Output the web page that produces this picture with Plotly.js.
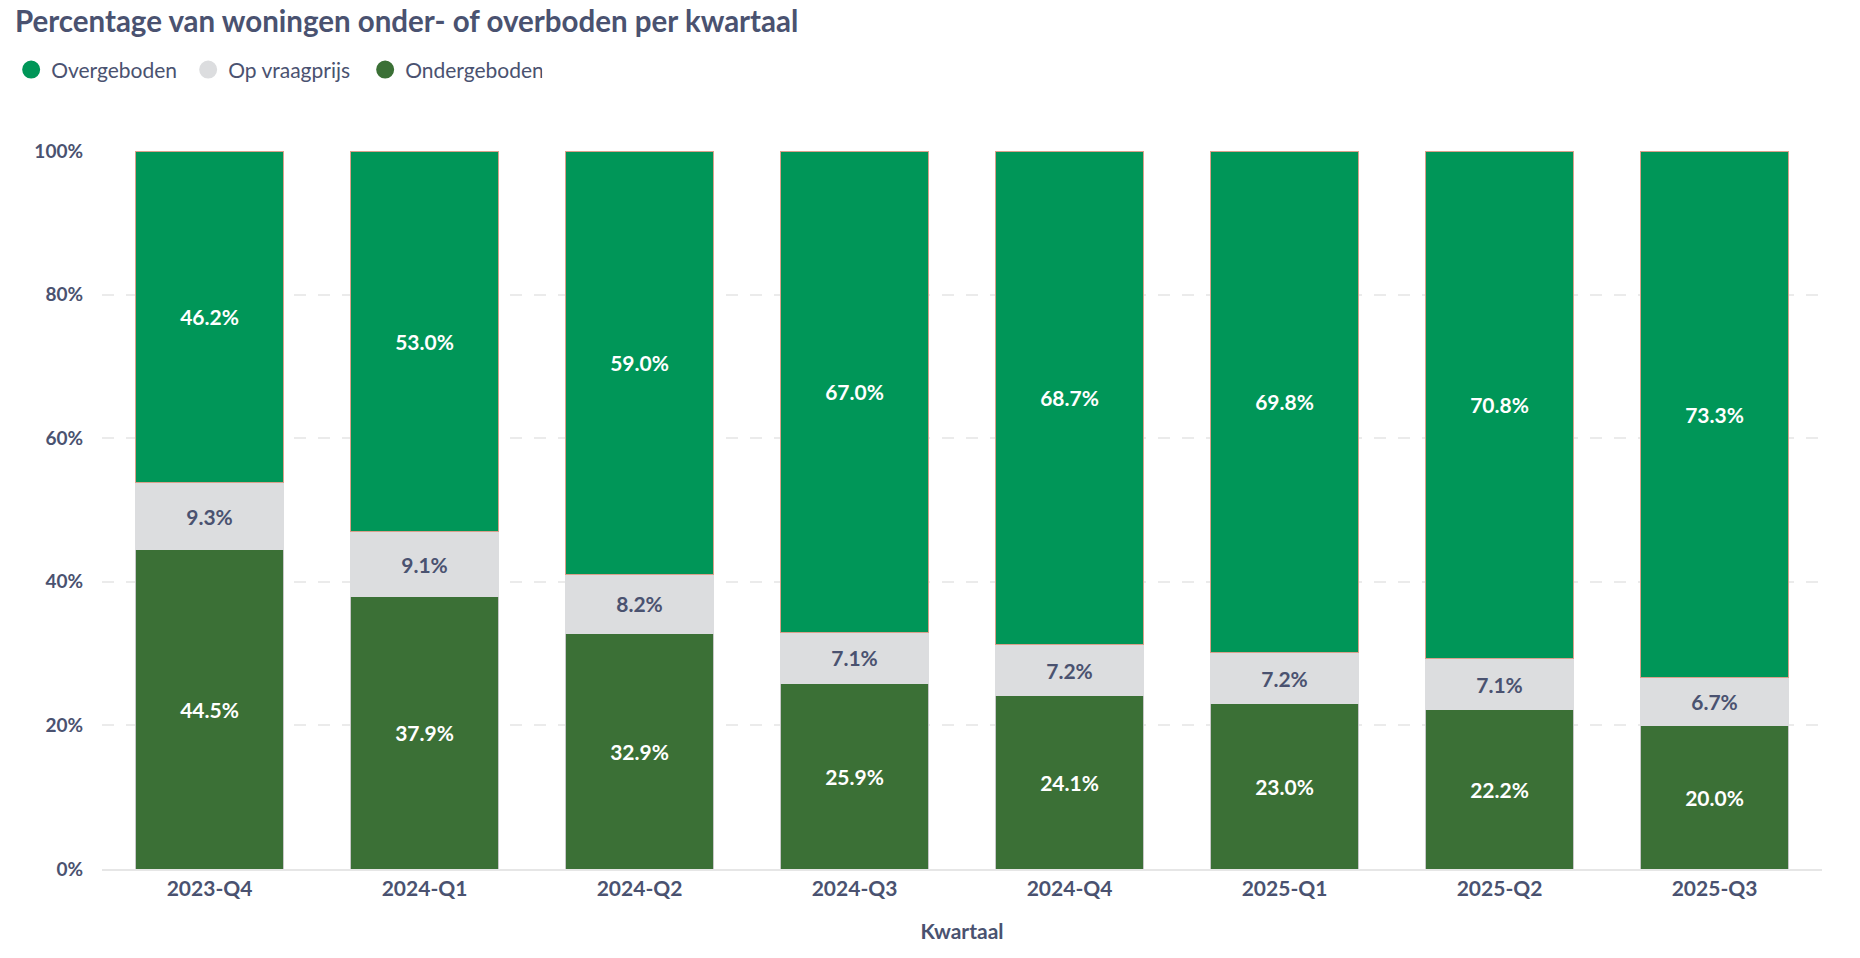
<!DOCTYPE html>
<html>
<head>
<meta charset="utf-8">
<script src="https://cdn.plot.ly/plotly-3.0.1.min.js"></script>
<style>
  html, body { margin: 0; padding: 0; background: #fff; }
  #chart { width: 1860px; height: 958px; }
</style>
</head>
<body>
<div id="chart"></div>
<script>
const quarters = ['2023-Q4', '2024-Q1', '2024-Q2', '2024-Q3', '2024-Q4', '2025-Q1', '2025-Q2', '2025-Q3'];
const ondergeboden = [44.5, 37.9, 32.9, 25.9, 24.1, 23.0, 22.2, 20.0];
const opVraagprijs = [9.3, 9.1, 8.2, 7.1, 7.2, 7.2, 7.1, 6.7];
const overgeboden = [46.2, 53.0, 59.0, 67.0, 68.7, 69.8, 70.8, 73.3];
const yTicks = [0, 20, 40, 60, 80, 100];

const textColor = '#4a5270';
const pct = v => v.toFixed(1) + '%';

function barTrace(name, values, color, lineColor, labelColor) {
    return {
        type: 'bar',
        name: name,
        legendgroup: name,
        showlegend: false,
        x: quarters,
        y: values,
        text: values.map(pct),
        textposition: 'inside',
        insidetextanchor: 'middle',
        textangle: 0,
        constraintext: 'none',
        textfont: { family: 'Lato', size: 21, weight: 'bold', color: labelColor },
        marker: { color: color, line: { color: lineColor, width: 1 } },
        hovertemplate: '%{x}<br>' + name + ': %{text}<extra></extra>'
    };
}

// legend entries drawn as circles, like the original
function legendDot(name, color) {
    return {
        type: 'scatter',
        mode: 'markers',
        name: name,
        legendgroup: name,
        x: [null],
        y: [null],
        marker: { color: color, size: 16, symbol: 'circle', line: { color: color, width: 2 } },
        hoverinfo: 'skip'
    };
}

let data = [
    barTrace('Ondergeboden', ondergeboden, '#3b7036', '#c8c8c8', '#ffffff'),
    barTrace('Op vraagprijs', opVraagprijs, '#dcdddf', '#dcdddf', textColor),
    barTrace('Overgeboden', overgeboden, '#009658', '#d9a08c', '#ffffff'),
    legendDot('Ondergeboden', '#3b7036'),
    legendDot('Op vraagprijs', '#dcdddf'),
    legendDot('Overgeboden', '#009658')
];

let layout = {
    width: 1860,
    height: 958,
    font: { family: 'Lato', color: textColor },
    paper_bgcolor: '#ffffff',
    plot_bgcolor: '#ffffff',
    margin: { l: 102, r: 38, t: 151, b: 89 },
    barmode: 'stack',
    barnorm: 'percent',
    bargap: 0.31,
    title: {
        text: 'Percentage van woningen onder- of overboden per kwartaal',
        font: { family: 'Lato', size: 29.5, weight: 'bold', color: textColor },
        xref: 'container', x: 0.008, xanchor: 'left',
        yref: 'container', y: 0.977, yanchor: 'middle'
    },
    showlegend: true,
    legend: {
        orientation: 'h',
        traceorder: 'reversed',
        xref: 'container', x: 0.006, xanchor: 'left',
        yref: 'container', y: 0.927, yanchor: 'middle',
        entrywidth: 132,
        font: { family: 'Lato', size: 21, color: textColor },
        itemclick: 'toggle'
    },
    xaxis: {
        type: 'category',
        tickfont: { family: 'Lato', size: 21, weight: 'bold', color: textColor },
        ticks: '',
        showline: true,
        linecolor: '#e6e6e6',
        linewidth: 2,
        showgrid: false,
        title: {
            text: 'Kwartaal',
            font: { family: 'Lato', size: 21, weight: 'bold', color: textColor },
            standoff: 25
        },
        fixedrange: true
    },
    yaxis: {
        range: [0, 100],
        tickvals: yTicks,
        ticktext: yTicks.map(v => v + '%'),
        tickfont: { family: 'Lato', size: 19, weight: 'bold', color: textColor },
        ticks: '',
        ticklabelstandoff: 18,
        showgrid: true,
        gridcolor: '#ebebeb',
        griddash: '12px,12px',
        gridwidth: 2,
        zeroline: false,
        showline: false,
        fixedrange: true
    }
};

Plotly.newPlot('chart', data, layout, { displayModeBar: false, responsive: false });
</script>
</body>
</html>
